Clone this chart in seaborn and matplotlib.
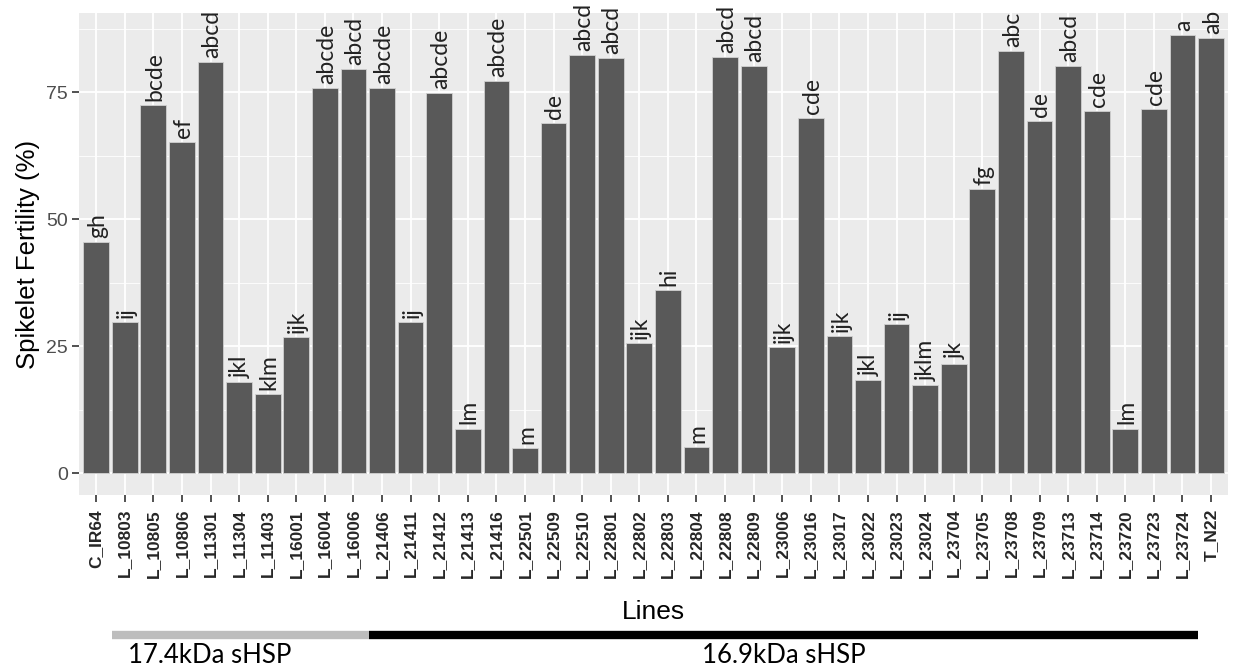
import matplotlib
matplotlib.use("Agg")
import matplotlib.pyplot as plt
import matplotlib.transforms as mtransforms
from matplotlib.ticker import MultipleLocator
import pandas as pd
import seaborn as sns

# Spikelet fertility per line
lines = ["C_IR64", "L_10803", "L_10805", "L_10806", "L_11301", "L_11304", "L_11403",
         "L_16001", "L_16004", "L_16006", "L_21406", "L_21411", "L_21412", "L_21413",
         "L_21416", "L_22501", "L_22509", "L_22510", "L_22801", "L_22802", "L_22803",
         "L_22804", "L_22808", "L_22809", "L_23006", "L_23016", "L_23017", "L_23022",
         "L_23023", "L_23024", "L_23704", "L_23705", "L_23708", "L_23709", "L_23713",
         "L_23714", "L_23720", "L_23723", "L_23724", "T_N22"]
fertility = [45.5, 29.7, 72.4, 65.2, 80.9, 17.9, 15.6,
             26.8, 75.8, 79.6, 75.8, 29.7, 74.8, 8.8,
             77.3, 4.9, 69.0, 82.4, 81.7, 25.7, 36.1,
             5.2, 81.9, 80.1, 24.8, 70.0, 27.1, 18.3,
             29.4, 17.3, 21.6, 55.9, 83.2, 69.4, 80.2,
             71.4, 8.8, 71.7, 86.3, 85.7]
letters = ["gh", "ij", "bcde", "ef", "abcd", "jkl", "klm",
           "ijk", "abcde", "abcd", "abcde", "ij", "abcde", "lm",
           "abcde", "m", "de", "abcd", "abcd", "ijk", "hi",
           "m", "abcd", "abcd", "ijk", "cde", "ijk", "jkl",
           "ij", "jklm", "jk", "fg", "abc", "de", "abcd",
           "cde", "lm", "cde", "a", "ab"]

# protein groups shown under the axis: (label, first line, last line, colour)
groups = [("17.4kDa sHSP", "L_10803", "L_16006", "#bdbdbd"),
          ("16.9kDa sHSP", "L_21406", "L_23724", "black")]

df = pd.DataFrame({"Lines": lines, "fert": fertility})

sns.set_theme(style="darkgrid", rc={"axes.facecolor": "#EBEBEB", "grid.color": "white"})
plt.rcParams["font.family"] = ["Liberation Sans", "DejaVu Sans"]

fig = plt.figure(figsize=(12.33, 6.69), dpi=100)
ax = fig.add_axes([0.0641, 0.260, 0.932, 0.7205])

sns.barplot(data=df, x="Lines", y="fert", order=lines, color="#595959", saturation=1,
            width=0.9, edgecolor="#d0d0d0", linewidth=0.6, ax=ax, zorder=3)

# significance letters above bars
for i, (v, lab) in enumerate(zip(fertility, letters)):
    ax.text(i + 0.05, v + 0.8, lab, rotation=90, ha="center", va="bottom",
            fontsize=16.5, family=["Lato", "DejaVu Sans"], color="#222222", zorder=4)

ax.set_xlim(-0.6, len(lines) - 0.4)
ax.set_ylim(-4.3, 90.6)
ax.yaxis.set_major_locator(MultipleLocator(25))
ax.yaxis.set_minor_locator(MultipleLocator(12.5))
ax.grid(which="major", color="white", linewidth=1.3, zorder=0)
ax.grid(which="minor", axis="y", color="white", linewidth=0.6, zorder=0)
ax.set_axisbelow(True)
for s in ax.spines.values():
    s.set_visible(False)

ax.tick_params(axis="both", which="major", length=5, width=1.2, color="#333333",
               bottom=True, left=True)
ax.tick_params(axis="y", labelsize=14, labelcolor="#4d4d4d", pad=3)
ax.tick_params(axis="y", which="minor", length=0)
ax.tick_params(axis="x", labelsize=12.5, labelcolor="#262626", pad=5)
for t in ax.get_xticklabels():
    t.set_rotation(90)
    t.set_fontweight("bold")
    t.set_va("top")

ax.set_ylabel("Spikelet Fertility (%)", fontsize=18.5, color="black")
ax.yaxis.set_label_coords(-0.044, 0.5)
ax.yaxis.label.set_va("center")
ax.set_xlabel("Lines", fontsize=19, color="black")
ax.xaxis.set_label_coords(0.5, -0.243)
ax.xaxis.label.set_va("center")

# group bars and names under the axis
trans = mtransforms.blended_transform_factory(ax.transData, ax.transAxes)
for k, (name, first, last, col) in enumerate(groups):
    x0 = lines.index(first) - 0.45
    x1 = lines.index(last) + 0.55
    ax.plot([x0, x1], [-0.290, -0.290], transform=trans, color=col, linewidth=6,
            solid_capstyle="butt", clip_on=False)
    if k == 0:
        ax.text(x0 + 0.55, -0.332, name, transform=trans, ha="left", va="center",
                fontsize=18.5, family=["Lato", "DejaVu Sans"], color="black")
    else:
        ax.text((x0 + x1) / 2, -0.332, name, transform=trans, ha="center", va="center",
                fontsize=18.5, family=["Lato", "DejaVu Sans"], color="black")

fig.savefig("out.png", dpi=100)
